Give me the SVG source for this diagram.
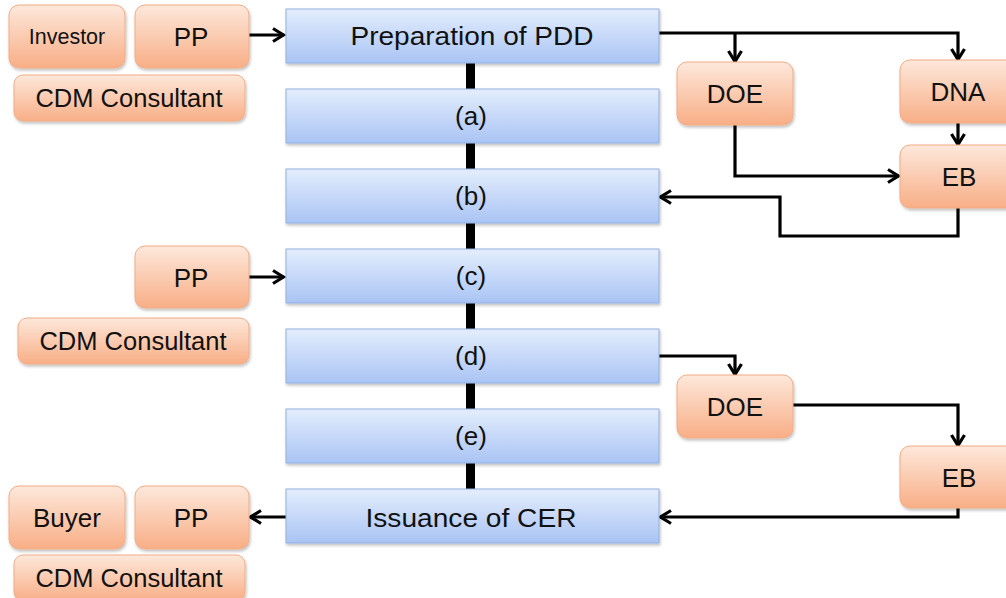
<svg xmlns="http://www.w3.org/2000/svg" width="1006" height="598" viewBox="0 0 1006 598">
<defs>
<linearGradient id="gBlue" x1="0" y1="0" x2="0" y2="1">
<stop offset="0" stop-color="#e4edfd"/>
<stop offset="1" stop-color="#a9c4f4"/>
</linearGradient>
<linearGradient id="gOrange" x1="0" y1="0" x2="0" y2="1">
<stop offset="0" stop-color="#fde8db"/>
<stop offset="1" stop-color="#f8ae86"/>
</linearGradient>
<filter id="sh" x="-10%" y="-10%" width="120%" height="130%">
<feDropShadow dx="1" dy="2" stdDeviation="1.5" flood-color="#000" flood-opacity="0.25"/>
</filter>
<marker id="arr" viewBox="0 0 14 16" refX="12.5" refY="8" markerWidth="14" markerHeight="16" markerUnits="userSpaceOnUse" orient="auto">
<path d="M1.5,1.5 L12,8 L1.5,14.5" fill="none" stroke="#000" stroke-width="3.2"/>
</marker>
</defs>
<style>
.blue{fill:url(#gBlue);stroke:#92afe0;stroke-width:1;filter:url(#sh)}
.orange{fill:url(#gOrange);stroke:#f2ac84;stroke-width:1;filter:url(#sh)}
text{font-family:"Liberation Sans",Arial,sans-serif;fill:#111;text-anchor:middle}
.bt{font-size:26px}
.ot{font-size:26px}
.ct{font-size:25.5px}
.it{font-size:21.5px}
.conn{fill:none;stroke:#000;stroke-width:3.2}
</style>
<rect id="spine" x="466" y="60" width="9" height="432" fill="#000"/>
<g id="connectors">
<path class="conn" d="M249,35 H284" marker-end="url(#arr)"/>
<path class="conn" d="M659,33 H958 V60" marker-end="url(#arr)"/>
<path class="conn" d="M735,33 V62" marker-end="url(#arr)"/>
<path class="conn" d="M958,123 V145" marker-end="url(#arr)"/>
<path class="conn" d="M735,125 V176 H899" marker-end="url(#arr)"/>
<path class="conn" d="M958,208 V236 H780 V197 H660" marker-end="url(#arr)"/>
<path class="conn" d="M249,277 H284" marker-end="url(#arr)"/>
<path class="conn" d="M659,356 H735 V375" marker-end="url(#arr)"/>
<path class="conn" d="M793,405 H958 V446" marker-end="url(#arr)"/>
<path class="conn" d="M958,508 V517 H660" marker-end="url(#arr)"/>
<path class="conn" d="M286,517 H250" marker-end="url(#arr)"/>
</g>
<g id="prep"><rect class="blue" x="286" y="9" width="373" height="54"/><text class="bt" x="472" y="45" textLength="243" lengthAdjust="spacingAndGlyphs">Preparation of PDD</text></g>
<g id="a"><rect class="blue" x="286" y="89" width="373" height="54"/><text class="bt" x="471" y="125">(a)</text></g>
<g id="b"><rect class="blue" x="286" y="169" width="373" height="54"/><text class="bt" x="471" y="205">(b)</text></g>
<g id="c"><rect class="blue" x="286" y="249" width="373" height="54"/><text class="bt" x="471" y="285">(c)</text></g>
<g id="d"><rect class="blue" x="286" y="329" width="373" height="54"/><text class="bt" x="471" y="365">(d)</text></g>
<g id="e"><rect class="blue" x="286" y="409" width="373" height="54"/><text class="bt" x="471" y="445">(e)</text></g>
<g id="issuance"><rect class="blue" x="286" y="489" width="373" height="54"/><text class="bt" x="471" y="527" textLength="211" lengthAdjust="spacingAndGlyphs">Issuance of CER</text></g>
<g id="investor"><rect class="orange" x="9" y="5" width="116" height="63" rx="10"/><text class="it" x="67" y="44">Investor</text></g>
<g id="pp1"><rect class="orange" x="135" y="5" width="114" height="63" rx="10"/><text class="ot" x="191" y="46">PP</text></g>
<g id="cdm1"><rect class="orange" x="14" y="75" width="231" height="46" rx="9"/><text class="ct" x="129" y="107">CDM Consultant</text></g>
<g id="doe1"><rect class="orange" x="677" y="62" width="116" height="63" rx="10"/><text class="ot" x="735" y="103">DOE</text></g>
<g id="dna"><rect class="orange" x="900" y="60" width="116" height="63" rx="10"/><text class="ot" x="958" y="101">DNA</text></g>
<g id="eb1"><rect class="orange" x="900" y="145" width="116" height="63" rx="10"/><text class="ot" x="959" y="186">EB</text></g>
<g id="pp2"><rect class="orange" x="135" y="246" width="114" height="62" rx="10"/><text class="ot" x="191" y="287">PP</text></g>
<g id="cdm2"><rect class="orange" x="18" y="318" width="231" height="46" rx="9"/><text class="ct" x="133" y="350">CDM Consultant</text></g>
<g id="doe2"><rect class="orange" x="677" y="375" width="116" height="63" rx="10"/><text class="ot" x="735" y="416">DOE</text></g>
<g id="eb2"><rect class="orange" x="900" y="446" width="116" height="62" rx="10"/><text class="ot" x="959" y="487">EB</text></g>
<g id="buyer"><rect class="orange" x="9" y="486" width="116" height="63" rx="10"/><text class="ot" x="67" y="527">Buyer</text></g>
<g id="pp3"><rect class="orange" x="135" y="486" width="114" height="63" rx="10"/><text class="ot" x="191" y="527">PP</text></g>
<g id="cdm3"><rect class="orange" x="14" y="555" width="231" height="46" rx="9"/><text class="ct" x="129" y="587">CDM Consultant</text></g>
</svg>
